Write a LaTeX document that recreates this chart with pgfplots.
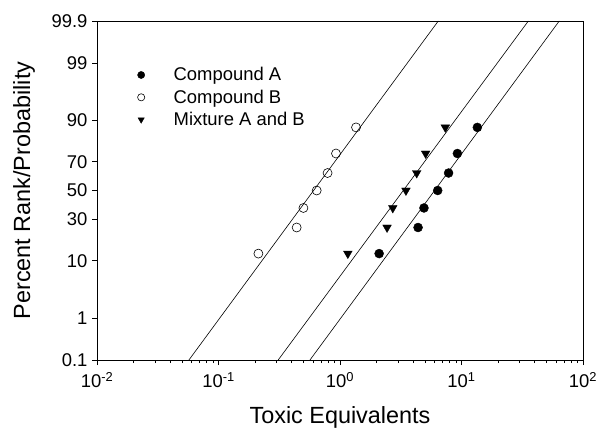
\documentclass[border=0pt]{standalone}
\usepackage{fontspec}
\setmainfont{Liberation Sans}
\usepackage{pgfplots}
\pgfplotsset{compat=1.18}

\pgfplotsset{legmark/.style={legend image code/.code={%
    \path[draw=none, fill=none] (-6bp,-1bp) rectangle (30.5bp,1bp);
    \draw[##1, only marks, mark size=3.6bp] plot coordinates {(0bp,0bp)};}}}

\begin{document}
\begin{tikzpicture}
\begin{axis}[name=ax,
  scale only axis, width=486bp, height=339bp,
  xmode=log, xmin=0.01, xmax=100,
  ymin=-3.0902, ymax=3.0902,
  xtick={0.01,0.1,1,10,100},
  xticklabels={10\textsuperscript{-2},10\textsuperscript{-1},10\textsuperscript{0},10\textsuperscript{1},10\textsuperscript{2}},
  ytick={-3.0902,-2.3263,-1.2816,-0.5244,0,0.5244,1.2816,2.3263,3.0902},
  yticklabels={0.1,1,10,30,50,70,90,99,99.9},
  /pgf/number format/assume math mode=true,
  tick align=outside, xtick pos=bottom, ytick pos=left,
  major tick length=5bp, minor tick length=3bp,
  ticklabel style={font=\fontsize{18.5}{20}\selectfont},
  xticklabel style={yshift=-4bp},
  yticklabel style={xshift=-1bp},
  axis line style={line width=0.7bp},
  every tick/.style={black, line width=0.6bp},
  xlabel={Toxic Equivalents},
  ylabel={Percent Rank/Probability},
  label style={font=\fontsize{23.5}{26}\selectfont, inner sep=0pt},
  xlabel style={at={(axis description cs:0.5,-0.137)}, anchor=north},
  ylabel style={at={(axis description cs:-0.173,0.5)}, anchor=north},
  legend style={at={(axis description cs:0.072,0.875)}, anchor=north west,
    draw=none, fill=none, row sep=3.5bp,
    nodes={font=\fontsize{18.5}{21}\selectfont}},
  legend cell align=left,
]
% fitted lines (probit vs log dose)
\addplot[black, line width=0.6bp, forget plot] coordinates {(0.0571,-3.0902) (6.44,3.0902)};
\addplot[black, line width=0.6bp, forget plot] coordinates {(0.31,-3.0902) (35.5,3.0902)};
\addplot[black, line width=0.6bp, forget plot] coordinates {(0.566,-3.0902) (63.8,3.0902)};
% Compound A
\addplot[only marks, mark=*, mark size=4.5bp, black, legmark] coordinates {
  (2.10,-1.1503) (4.39,-0.6745) (4.91,-0.3186) (6.37,0) (7.83,0.3186) (9.25,0.6745) (13.5,1.1503)};
\addlegendentry{Compound A}
% Compound B
\addplot[only marks, mark=o, mark size=4.5bp, black, line width=0.6bp, legmark] coordinates {
  (0.213,-1.1503) (0.44,-0.6745) (0.50,-0.3186) (0.643,0) (0.79,0.3186) (0.927,0.6745) (1.355,1.1503)};
\addlegendentry{Compound B}
% Mixture A and B
\addplot[only marks, mark=triangle*, mark size=5bp, mark options={rotate=180}, black, legmark] coordinates {
  (1.16,-1.1503) (2.44,-0.6745) (2.72,-0.3186) (3.49,0) (4.28,0.3186) (5.07,0.6745) (7.36,1.1503)};
\addlegendentry{Mixture A and B}
\end{axis}
\pgfresetboundingbox
\useasboundingbox ([shift={(-97bp,-70bp)}]ax.south west) rectangle ([shift={(15bp,21bp)}]ax.north east);
\end{tikzpicture}
\end{document}
